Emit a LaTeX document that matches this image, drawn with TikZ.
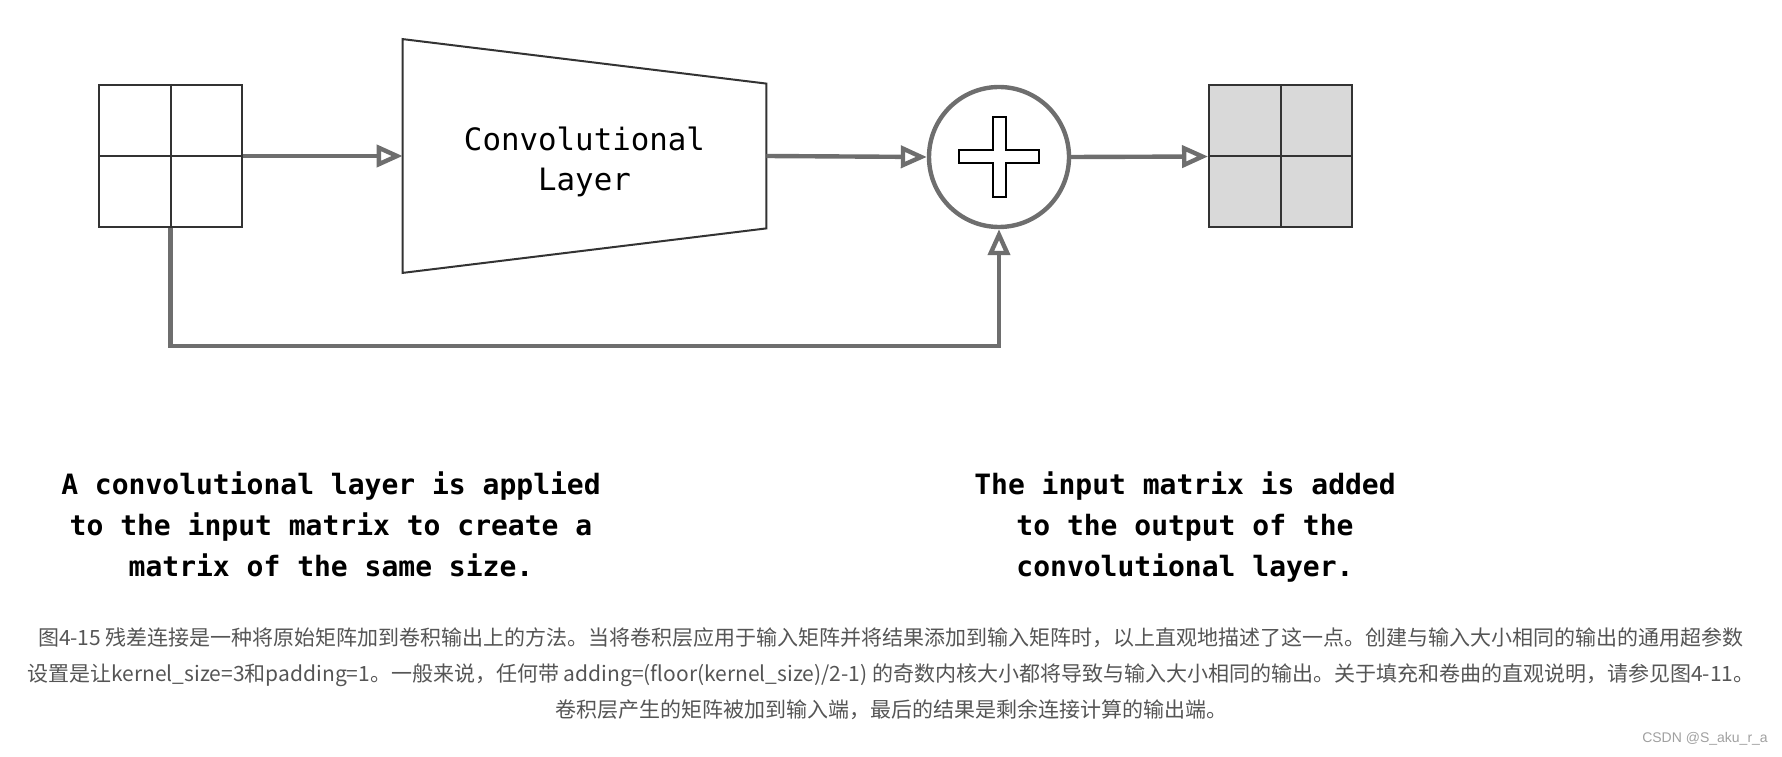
\documentclass[tikz,border=0pt]{standalone}
\usepackage{fontspec}
\usepackage{tikz}
\usetikzlibrary{arrows.meta, calc, positioning}
\usepackage{xcolor}
\newfontfamily\monofont{DejaVu Sans Mono}
\newfontfamily\cjkfont{Noto Sans CJK SC}
\newfontfamily\markfont{Liberation Sans}
\definecolor{flowgray}{RGB}{110, 110, 110}
\definecolor{gridgray}{RGB}{51, 51, 51}
\definecolor{resultgray}{RGB}{217, 217, 217}
\definecolor{captiongray}{RGB}{85, 85, 85}
\definecolor{markgray}{RGB}{160, 160, 160}
\tikzset{
    flow/.style={draw=flowgray, line width=2.2pt, -{Triangle[open, length=13pt, width=11pt]}},
    cell/.style={draw=gridgray, line width=1pt, minimum width=71.5pt, minimum height=71pt, inner sep=0pt},
    note/.style={font=\monofont\bfseries\fontsize{14}{20.5}\selectfont, align=center}
}

\begin{document}
\begin{tikzpicture}[x=0.5pt, y=0.5pt]
    \useasboundingbox (0,0) rectangle (1782,756);

    % Input matrix
    \node[cell] (inmat) at (170.5,600) {};
    \draw[gridgray, line width=1pt] (inmat.north) -- (inmat.south) (inmat.west) -- (inmat.east);

    % Convolutional layer
    \node[minimum width=181.5pt, minimum height=72pt, inner sep=0pt] (conv) at (584.5,600) {};
    \draw[gridgray, line width=1pt] ($(conv.north west)+(0,44.5)$) -- (conv.north east)
        -- (conv.south east) -- ($(conv.south west)+(0,-44.5)$) -- cycle;
    \node[align=center, font=\monofont\fontsize{15.4}{20}\selectfont] (convlabel)
        at ($(conv.center)+(0,-6)$) {Convolutional\\Layer};

    % Sum
    \node[circle, draw=flowgray, line width=2.2pt, minimum size=70pt, inner sep=0pt] (sum) at (999,599) {};
    \draw[black, line width=1pt, shift={(sum.center)}] (-6.5,40) -- (6.5,40) -- (6.5,6.5) -- (40,6.5)
        -- (40,-6.5) -- (6.5,-6.5) -- (6.5,-40) -- (-6.5,-40) -- (-6.5,-6.5) -- (-40,-6.5)
        -- (-40,6.5) -- (-6.5,6.5) -- cycle;

    % Output matrix
    \node[cell, fill=resultgray] (outmat) at (1280.5,599.5) {};
    \draw[gridgray, line width=1pt] (outmat.north) -- (outmat.south) (outmat.west) -- (outmat.east);

    % Connections
    \draw[flow] (inmat.east) -- (conv.west);
    \draw[flow] (conv.east) -- (sum.west);
    \draw[flow] (sum.east) -- (outmat.west);
    \draw[flow] (inmat.south) -- ++(0,-118) -| (sum.south);

    % Notes
    \node[note] (applynote) at (331,232) {A convolutional layer is applied\\to the input matrix to create a\\matrix of the same size.};
    \node[note] (addnote) at (1185,229) {The input matrix is added\\to the output of the\\convolutional layer.};

    % Caption
    \node[font=\cjkfont\fontsize{10.5}{18}\selectfont, text=captiongray, align=center] (caption) at (891,82) {图4-15 残差连接是一种将原始矩阵加到卷积输出上的方法。当将卷积层应用于输入矩阵并将结果添加到输入矩阵时，以上直观地描述了这一点。创建与输入大小相同的输出的通用超参数\\设置是让kernel\_size=3和padding=1。一般来说，任何带 adding=(floor(kernel\_size)/2-1) 的奇数内核大小都将导致与输入大小相同的输出。关于填充和卷曲的直观说明，请参见图4-11。\\卷积层产生的矩阵被加到输入端，最后的结果是剩余连接计算的输出端。};
    \node[font=\markfont\fontsize{7}{8}\selectfont, text=markgray] (mark) at (1705,17) {CSDN @S\_aku\_r\_a};
\end{tikzpicture}
\end{document}
